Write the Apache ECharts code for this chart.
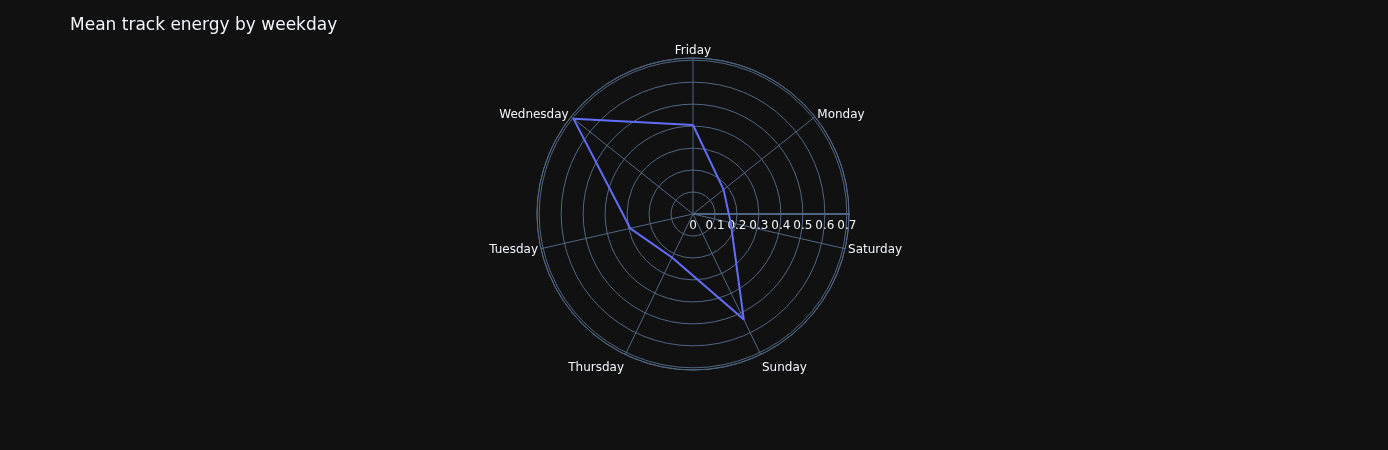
<!DOCTYPE html>
<html><head><meta charset="utf-8">
<script src="https://cdn.jsdelivr.net/npm/echarts@6/dist/echarts.min.js"></script>
<style>html,body{margin:0;padding:0;background:#111111;}#c{width:1388px;height:450px;}</style>
</head><body><div id="c"></div>
<script>
const categories = ['Friday','Monday','Saturday','Sunday','Thursday','Tuesday','Wednesday'];
const energy = [0.405, 0.178, 0.176, 0.533, 0.22, 0.293, 0.696];
const radialTicks = [0, 0.1, 0.2, 0.3, 0.4, 0.5, 0.6, 0.7];
const rMax = 0.71;

const grid = '#506784';
const txt = '#f2f5fa';
const font = 'DejaVu Sans';

// per-label vertical nudges (styling only)
const labelPad = {
  Friday: [0, 0, -2, 0], Monday: [0, 0, -6, 0], Wednesday: [0, 0, -6, 0],
  Saturday: [8, 0, -8, 0], Tuesday: [8, 0, -8, 0],
  Sunday: [5, 0, 0, 0], Thursday: [5, 0, 0, 0]
};

const n = categories.length;
const band = 360 / n;
const angleData = categories.map(c => ({value: c, textStyle: {padding: labelPad[c]}}));
const lineData = categories.map((c, i) => [energy[i], c]);
lineData.push([energy[0], categories[0]]);

const C = [693, 214], R = 156;
const chart = echarts.init(document.getElementById('c'), null, {renderer: 'canvas'});
chart.setOption({
  backgroundColor: '#111111',
  animation: false,
  title: {text: 'Mean track energy by weekday', left: 65, top: 12,
    textStyle: {color: txt, fontSize: 17, fontWeight: 'normal', fontFamily: font}},
  polar: [
    {center: C, radius: R},
    {center: C, radius: R},
    {center: C, radius: R}
  ],
  angleAxis: [
    {polarIndex: 0, type: 'category', data: angleData, startAngle: 90 + band / 2, clockwise: true, boundaryGap: true,
      axisLine: {show: true, lineStyle: {color: grid, width: 1}},
      axisTick: {show: false},
      axisLabel: {color: txt, fontSize: 12, fontFamily: font, margin: 3},
      splitLine: {show: false}},
    {polarIndex: 1, type: 'value', min: 0, max: n, interval: 1, startAngle: 90, clockwise: true,
      axisLine: {show: false}, axisTick: {show: false}, axisLabel: {show: false},
      splitLine: {show: true, lineStyle: {color: grid, width: 1}}},
    {polarIndex: 2, type: 'value', min: 0, max: 360, startAngle: 0, show: false,
      axisLine: {show: false}, splitLine: {show: false}, axisLabel: {show: false}, axisTick: {show: false}}
  ],
  radiusAxis: [
    {polarIndex: 0, type: 'value', min: 0, max: rMax, interval: 0.1,
      axisLine: {show: false}, axisTick: {show: false}, axisLabel: {show: false},
      splitLine: {show: true, lineStyle: {color: grid, width: 1}}},
    {polarIndex: 1, type: 'value', min: 0, max: rMax, interval: 0.1, show: false,
      axisLine: {show: false}, axisTick: {show: false}, axisLabel: {show: false}, splitLine: {show: false}},
    {polarIndex: 2, type: 'value', min: 0, max: rMax, interval: 0.1,
      axisLine: {show: true, lineStyle: {color: grid, width: 2}}, axisTick: {show: false},
      splitLine: {show: false},
      axisLabel: {color: txt, fontSize: 12, fontFamily: font, margin: -6, verticalAlign: 'top',
        formatter: v => {
          const hit = radialTicks.find(t => Math.abs(t - v) < 1e-6);
          return hit === undefined ? '' : String(hit);
        }}}
  ],
  series: [{
    type: 'line', coordinateSystem: 'polar', polarIndex: 0,
    data: lineData, showSymbol: false, symbol: 'none',
    lineStyle: {color: '#636efa', width: 2}
  }]
});
</script></body></html>
